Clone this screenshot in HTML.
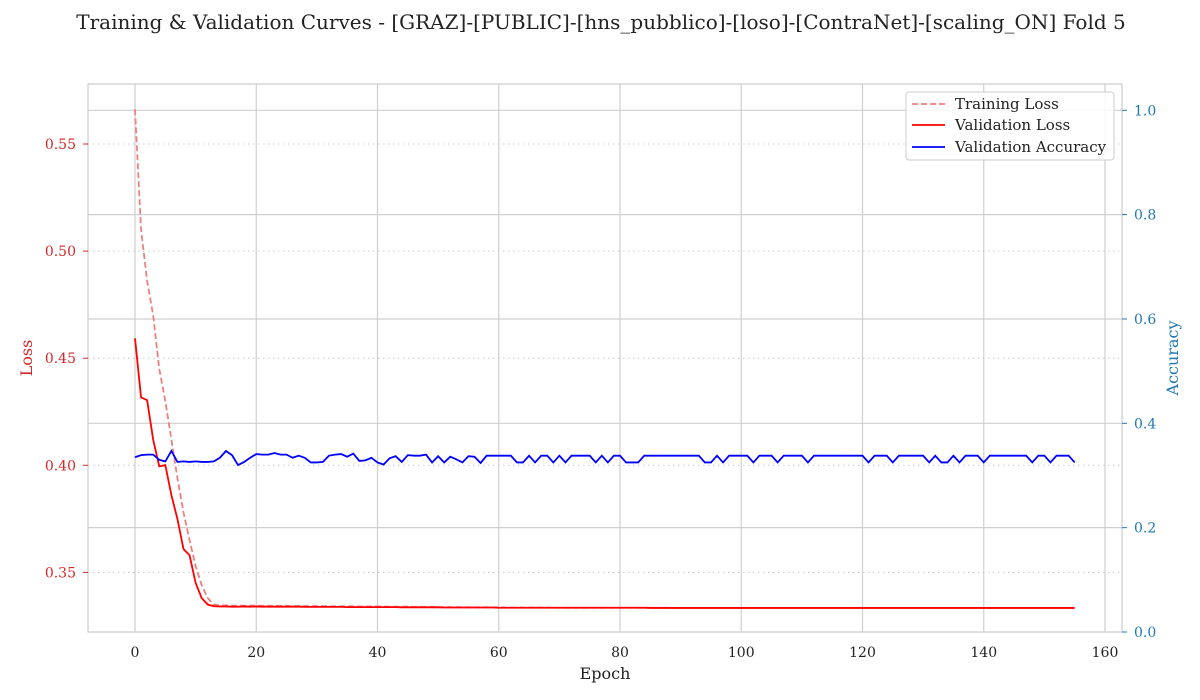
<!DOCTYPE html>
<html><head><meta charset="utf-8"><style>
html,body{margin:0;padding:0;background:#fff;}
svg{display:block;font-family:"DejaVu Serif","Liberation Serif",serif;}
</style></head><body>
<svg id="chart" width="1200" height="700" viewBox="0 0 1200 700" xmlns="http://www.w3.org/2000/svg">
<text x="601" y="29" text-anchor="middle" font-size="20" fill="#222">Training &amp; Validation Curves - [GRAZ]-[PUBLIC]-[hns_pubblico]-[loso]-[ContraNet]-[scaling_ON] Fold 5</text>
<g id="grid"></g>
<g id="series"></g>
<rect x="88" y="84" width="1034" height="548" fill="none" stroke="#ccc" stroke-width="1.2"/>
<g id="axes"></g>
<text x="605" y="679" text-anchor="middle" font-size="16" fill="#222">Epoch</text>
<text transform="translate(32,358) rotate(-90)" text-anchor="middle" font-size="16" fill="#d62728">Loss</text>
<text transform="translate(1178,358) rotate(-90)" text-anchor="middle" font-size="16" fill="#1f77b4">Accuracy</text>
<g>
<rect x="906" y="92" width="208" height="68" rx="3" fill="#fff" fill-opacity="0.85" stroke="#ccc"/>
<line x1="912" y1="104" x2="945" y2="104" stroke="#f08080" stroke-width="1.8" stroke-dasharray="6,3"/>
<text x="955" y="109" font-size="15" fill="#222">Training Loss</text>
<line x1="912" y1="125" x2="945" y2="125" stroke="#ff0000" stroke-width="1.8"/>
<text x="955" y="130" font-size="15" fill="#222">Validation Loss</text>
<line x1="912" y1="147" x2="945" y2="147" stroke="#0000ff" stroke-width="1.8"/>
<text x="955" y="152" font-size="15" fill="#222">Validation Accuracy</text>
</g>
</svg>
<script>
const xTicks=[0,20,40,60,80,100,120,140,160];
const lossTicks=[0.35,0.40,0.45,0.50,0.55];
const accTicks=[0.0,0.2,0.4,0.6,0.8,1.0];
const trainLoss=[0.5662,0.510,0.486,0.470,0.445,0.430,0.412,0.394,0.378,0.365,0.353,0.344,0.338,0.335,
0.3346,0.3346,0.3345,0.3345,0.3345,0.3345,0.3345,0.3344,0.3344,0.3344,0.3344,0.3344,0.3343,0.3343,0.3343,0.3343,
0.3343,0.3343,0.3342,0.3342,0.3342,0.3342,0.3342,0.3341,0.3341,0.3341,0.3341,0.3341,0.3340,0.3340,0.3340,0.3340,
0.3339,0.3339,0.3339,0.3339,0.3338,0.3338,0.3338,0.3338,0.3338,0.3337,0.3337,0.3337,0.3337,0.3337,0.3337,0.3336,
0.3336,0.3336,0.3336,0.3336,0.3336,0.3336,0.3336,0.3335,0.3335,0.3335,0.3335,0.3335,0.3335,0.3335,0.3335,0.3335,
0.3335,0.3335,0.3335,0.3335,0.3335,0.3335,0.3335,0.3335,0.3335,0.3335,0.3335,0.3334,0.3334,0.3334,0.3334,0.3334,
0.3334,0.3334,0.3334,0.3334,0.3334,0.3334,0.3334,0.3334,0.3334,0.3334,0.3334,0.3334,0.3334,0.3334,0.3334,0.3334,
0.3334,0.3334,0.3334,0.3334,0.3334,0.3334,0.3334,0.3334,0.3334,0.3334,0.3334,0.3334,0.3334,0.3334,0.3334,0.3334,
0.3334,0.3334,0.3334,0.3334,0.3334,0.3334,0.3334,0.3334,0.3334,0.3334,0.3334,0.3334,0.3334,0.3334,0.3334,0.3334,
0.3334,0.3334,0.3334,0.3334,0.3334,0.3334,0.3334,0.3334,0.3334,0.3334,0.3334,0.3334,0.3334,0.3334];
const valLoss=[0.4593,0.4317,0.4304,0.4119,0.3995,0.4001,0.3861,0.3749,0.3609,0.3580,0.3451,0.3380,0.3350,0.3342,
0.3341,0.3341,0.3340,0.3340,0.3341,0.3340,0.3341,0.3340,0.3340,0.3340,0.3340,0.3340,0.3340,0.3340,0.3339,0.3339,
0.3339,0.3339,0.3339,0.3339,0.3339,0.3338,0.3338,0.3338,0.3338,0.3338,0.3338,0.3338,0.3338,0.3338,0.3337,0.3337,
0.3337,0.3337,0.3337,0.3337,0.3337,0.3336,0.3336,0.3336,0.3336,0.3336,0.3336,0.3336,0.3336,0.3336,0.3335,0.3335,
0.3335,0.3335,0.3335,0.3335,0.3335,0.3335,0.3335,0.3335,0.3335,0.3335,0.3335,0.3335,0.3335,0.3335,0.3335,0.3335,
0.3335,0.3335,0.3335,0.3335,0.3335,0.3335,0.3335,0.3334,0.3334,0.3334,0.3334,0.3334,0.3334,0.3334,0.3334,0.3334,
0.3334,0.3334,0.3334,0.3334,0.3334,0.3334,0.3334,0.3334,0.3334,0.3334,0.3334,0.3334,0.3334,0.3334,0.3334,0.3334,
0.3334,0.3334,0.3334,0.3334,0.3334,0.3334,0.3334,0.3334,0.3334,0.3334,0.3334,0.3334,0.3334,0.3334,0.3334,0.3334,
0.3334,0.3334,0.3334,0.3334,0.3334,0.3334,0.3334,0.3334,0.3334,0.3334,0.3334,0.3334,0.3334,0.3334,0.3334,0.3334,
0.3334,0.3334,0.3334,0.3334,0.3334,0.3334,0.3334,0.3334,0.3334,0.3334,0.3334,0.3334,0.3334,0.3334];
const valAcc=[0.335,0.339,0.340,0.340,0.330,0.327,0.347,0.326,0.327,0.326,0.327,0.326,0.326,0.327,0.334,0.347,0.339,0.320,0.326,0.334,
0.341,0.340,0.340,0.343,0.340,0.340,0.334,0.338,0.334,0.325,0.325,0.326,0.338,0.340,0.341,0.336,0.342,0.328,0.329,0.334,
0.325,0.321,0.333,0.337,0.326,0.339,0.338,0.338,0.340,0.325,0.337,0.325,0.336,0.331,0.325,0.337,0.336,0.324,0.338,0.338,
0.338,0.338,0.338,0.325,0.325,0.338,0.325,0.338,0.338,0.325,0.338,0.325,0.338,0.338,0.338,0.338,0.325,0.338,0.325,0.338,
0.338,0.325,0.325,0.325,0.338,0.338,0.338,0.338,0.338,0.338,0.338,0.338,0.338,0.338,0.325,0.325,0.338,0.325,0.338,0.338,
0.338,0.338,0.325,0.338,0.338,0.338,0.325,0.338,0.338,0.338,0.338,0.325,0.338,0.338,0.338,0.338,0.338,0.338,0.338,0.338,
0.338,0.325,0.338,0.338,0.338,0.325,0.338,0.338,0.338,0.338,0.338,0.325,0.338,0.325,0.325,0.338,0.325,0.338,0.338,0.338,
0.325,0.338,0.338,0.338,0.338,0.338,0.338,0.338,0.325,0.338,0.338,0.325,0.338,0.338,0.338,0.325];

const NS="http://www.w3.org/2000/svg";
const X=e=>135+e*(1105-135)/160;
const YL=v=>144+(0.55-v)*(572.4-144)/0.20;
const YR=v=>632-v*(632-110.3);
function mk(tag,attrs,parent,text){const el=document.createElementNS(NS,tag);for(const k in attrs)el.setAttribute(k,attrs[k]);if(text!==undefined)el.textContent=text;parent.appendChild(el);return el;}
const grid=document.getElementById('grid'),axes=document.getElementById('axes'),series=document.getElementById('series');
xTicks.forEach(t=>{
  const l=mk('line',{x1:X(t),x2:X(t),y1:84,y2:632,stroke:'#cfcfcf','stroke-width':1.2},grid);
  
  
  const tx=mk('text',{x:X(t),y:657,'text-anchor':'middle','font-size':14,fill:'#222'},axes,String(t));
  
  
});
accTicks.forEach(t=>{
  if(t>0){const l=mk('line',{x1:88,x2:1122,y1:YR(t),y2:YR(t),stroke:'#cfcfcf','stroke-width':1.2},grid);
  
  }
  mk('line',{x1:1122,x2:1127,y1:YR(t),y2:YR(t),stroke:'#1f77b4','stroke-width':1},axes);
  const tx=mk('text',{x:1134,y:YR(t)+5,'font-size':14,fill:'#1f77b4'},axes,t.toFixed(1));
  
  
});
lossTicks.forEach(t=>{
  const l=mk('line',{x1:88,x2:1122,y1:YL(t),y2:YL(t),stroke:'#c8c8c8','stroke-width':1,'stroke-dasharray':'1.5,3.5'},grid);
  
  
  mk('line',{x1:83,x2:88,y1:YL(t),y2:YL(t),stroke:'#d62728','stroke-width':1},axes);
  const tx=mk('text',{x:76,y:YL(t)+5,'text-anchor':'end','font-size':14,fill:'#d62728'},axes,t.toFixed(2));
  
  
});
function path(arr,yf){return arr.map((v,i)=>(i?'L':'M')+X(i).toFixed(2)+','+yf(v).toFixed(2)).join(' ');}
const p1=mk('path',{d:path(trainLoss,YL),fill:'none',stroke:'#f08080','stroke-width':1.8,'stroke-dasharray':'6,3'},series);


const p2=mk('path',{d:path(valLoss,YL),fill:'none',stroke:'#ff0000','stroke-width':1.8},series);


const p3=mk('path',{d:path(valAcc,YR),fill:'none',stroke:'#0000ff','stroke-width':1.8},series);


</script>
</body></html>
